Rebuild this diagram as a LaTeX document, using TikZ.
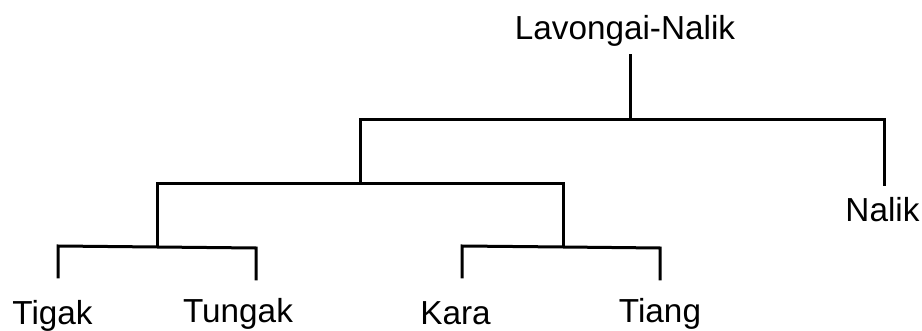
\documentclass[tikz,border=0pt]{standalone}
\usepackage{fontspec}
\setmainfont{Liberation Sans}
\begin{document}
\begin{tikzpicture}[x=1pt,y=-1pt,
  lbl/.style={inner sep=0pt,anchor=base,font=\fontsize{33.3}{38}\selectfont},
  br/.style={line width=3pt,line cap=rect,line join=miter}]
\useasboundingbox (0,0) rectangle (922,331);
\node[lbl] (root) at (625,40) {Lavongai-Nalik};
\node[lbl] (tigak) at (52.5,325) {Tigak};
\node[lbl] (tungak) at (238,323) {Tungak};
\node[lbl] (kara) at (455.5,325) {Kara};
\node[lbl] (tiang) at (660,323) {Tiang};
\node[lbl] (nalik) at (882.5,222) {Nalik};
% junction coordinates
\coordinate (r0) at (630,56);
\coordinate (r1) at (630,120);
\coordinate (a) at (360,120);
\coordinate (a1) at (360,184);
\coordinate (n) at (884,120);
\coordinate (n1) at (884,185);
\coordinate (b) at (157,184);
\coordinate (b1) at (157,247);
\coordinate (c) at (563,184);
\coordinate (c1) at (563,247);
\coordinate (t1) at (58,246);
\coordinate (t1e) at (58,277);
\coordinate (t2) at (256,248);
\coordinate (t2e) at (256,279);
\coordinate (k1) at (462,246);
\coordinate (k1e) at (462,277);
\coordinate (k2) at (660,248);
\coordinate (k2e) at (660,279);
\draw[br] (r0) -- (r1);
\draw[br] (a1) -- (a) -- (n) -- (n1);
\draw[br] (a) -- (a1);
\draw[br] (b1) -- (b) -- (c) -- (c1);
\draw[br] (t1e) -- (t1) -- (b1) -- (t2) -- (t2e);
\draw[br] (k1e) -- (k1) -- (c1) -- (k2) -- (k2e);
\end{tikzpicture}
\end{document}
